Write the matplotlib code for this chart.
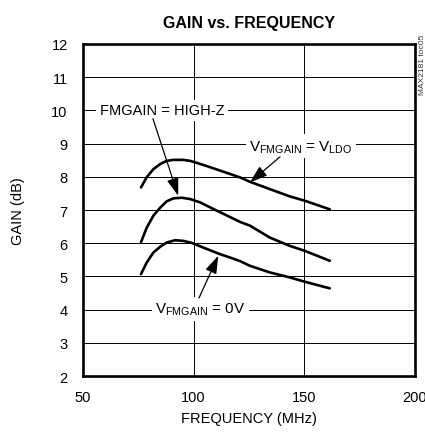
import numpy as np
import matplotlib
matplotlib.use('Agg')
import matplotlib.pyplot as plt

plt.rcParams['font.family'] = ['Liberation Sans', 'DejaVu Sans']
plt.rcParams['mathtext.fontset'] = 'custom'
plt.rcParams['mathtext.rm'] = 'Liberation Sans'

# Données (MHz, dB)
freq_lo = [76.2, 78.8, 81.8, 85.0, 87.8, 90.8, 95.3, 98.4, 101.4, 107.4, 114.9,
           121.0, 125.4, 134.4, 143.4, 150.2, 161.5]
gain_vldo = [7.68, 7.99, 8.23, 8.39, 8.48, 8.51, 8.51, 8.48, 8.42, 8.29, 8.12,
             7.98, 7.85, 7.63, 7.41, 7.28, 7.02]

freq_mid = [76.2, 78.8, 81.8, 85.0, 87.8, 90.8, 94.6, 98.4, 102.9, 108.9, 116.4,
            121.0, 125.4, 134.4, 143.4, 150.2, 161.5]
gain_highz = [6.03, 6.47, 6.83, 7.08, 7.26, 7.35, 7.37, 7.33, 7.23, 7.03, 6.79,
              6.64, 6.53, 6.17, 5.92, 5.77, 5.47]

freq_0v = [76.2, 78.8, 81.8, 85.0, 87.8, 91.6, 95.3, 99.1, 104.3, 111.9, 116.4,
           121.0, 125.4, 134.4, 143.4, 150.2, 161.5]
gain_0v = [5.07, 5.42, 5.72, 5.90, 6.02, 6.09, 6.07, 6.01, 5.87, 5.67, 5.57,
           5.46, 5.32, 5.12, 4.97, 4.84, 4.64]

x_ticks = [50, 100, 150, 200]
y_ticks = list(range(2, 13))

fig = plt.figure(figsize=(4.25, 4.39), dpi=100)
ax = fig.add_axes([0.1953, 0.1412, 0.7812, 0.7563])

for f, g in ((freq_lo, gain_vldo), (freq_mid, gain_highz), (freq_0v, gain_0v)):
    ax.plot(f, g, color='black', linewidth=1.9, zorder=3,
            solid_joinstyle='round', solid_capstyle='round')

ax.set_xlim(50, 200)
ax.set_ylim(2, 12)
ax.set_xticks(x_ticks)
ax.set_yticks(y_ticks)
ax.tick_params(length=0, labelsize=10.5)
ax.tick_params(axis='x', pad=10)
ax.tick_params(axis='y', pad=11)
ax.grid(True, color='black', linewidth=0.7)
for s in ax.spines.values():
    s.set_linewidth(1.9)

ax.set_title('GAIN vs. FREQUENCY', fontsize=11.5, fontweight='bold', pad=12)
ax.set_xlabel('FREQUENCY (MHz)', fontsize=10.5, labelpad=5)
ax.set_ylabel('GAIN (dB)', fontsize=10.5, labelpad=19)

box = dict(facecolor='white', edgecolor='none', pad=2.5)
arrow = dict(arrowstyle='-|>,head_length=0.9,head_width=0.3', color='black',
             linewidth=0.9, mutation_scale=12, shrinkA=0, shrinkB=0)

ax.text(85.7, 10.0, 'FMGAIN = HIGH-Z', ha='center', va='center', fontsize=10.5,
        bbox=box, zorder=4)
ax.annotate('', xy=(93.0, 7.43), xytext=(81.6, 9.75), arrowprops=arrow, zorder=4)

ax.text(148.5, 8.92, r'V$_{\mathrm{FMGAIN}}$ = V$_{\mathrm{LDO}}$', ha='center',
        va='center', fontsize=11, bbox=box, zorder=4)
ax.annotate('', xy=(125.4, 7.83), xytext=(139.0, 8.6), arrowprops=arrow, zorder=4)

ax.text(103, 4.02, r'V$_{\mathrm{FMGAIN}}$ = 0V', ha='center', va='center',
        fontsize=11, bbox=box, zorder=4)
ax.annotate('', xy=(111.1, 5.62), xytext=(102.4, 4.35), arrowprops=arrow, zorder=4)

fig.text(0.993, 0.92, 'MAX2181 toc05', rotation=90, fontsize=6, color='#333333',
         ha='center', va='top')

fig.savefig('out.png', dpi=100)
